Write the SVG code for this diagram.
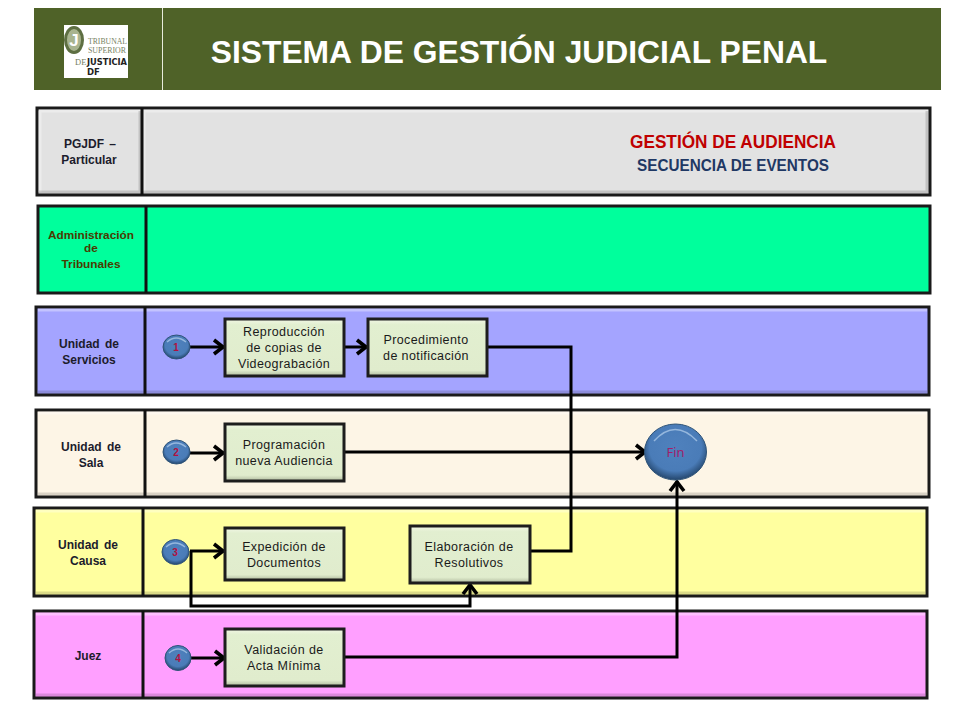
<svg xmlns="http://www.w3.org/2000/svg" width="960" height="720" viewBox="0 0 960 720">
<style>
.lane{stroke:#1a1a1a;stroke-width:3}
.div{stroke:#111;stroke-width:3;fill:none}
.hi{fill:none;stroke:#fff;stroke-opacity:.35;stroke-width:3}
.lo{fill:none;stroke:#000;stroke-opacity:.14;stroke-width:3}
.lbl{font-family:"Liberation Sans",Arial,sans-serif;font-size:12px;font-weight:bold;fill:#1c1c2c;text-anchor:middle;word-spacing:2px}
.adm{font-size:11.800px;fill:#4a3a00;word-spacing:0}
.box{fill:url(#boxg);stroke:#1d1d1d;stroke-width:3}
.boxt{font-family:"Liberation Sans",Arial,sans-serif;font-size:12.500px;fill:#1a1a1a;text-anchor:middle;letter-spacing:.4px}
.num{font-family:"Liberation Sans",Arial,sans-serif;font-size:10px;font-weight:bold;fill:#b01040;text-anchor:middle}
.ball{fill:url(#ball);stroke:#2f5478;stroke-width:1}
.shine{fill:none;stroke:#a8c6e6;stroke-opacity:.8;stroke-width:1.500}
.c{fill:none;stroke:#000;stroke-width:3;marker-end:url(#arr);stroke-linejoin:miter}
.p{fill:none;stroke:#000;stroke-width:3;stroke-linejoin:miter}
</style>
<defs>
<linearGradient id="boxg" x1="0" y1="0" x2="0" y2="1"><stop offset="0" stop-color="#f2f7e6"/><stop offset=".1" stop-color="#e2efd0"/><stop offset=".9" stop-color="#e0eccd"/><stop offset="1" stop-color="#aeb99d"/></linearGradient>
<radialGradient id="ball" cx=".5" cy=".42" r=".6"><stop offset="0" stop-color="#4f81bd"/><stop offset=".7" stop-color="#4a7cb8"/><stop offset="1" stop-color="#1f3f63"/></radialGradient>
<marker id="arr" markerUnits="userSpaceOnUse" markerWidth="16" markerHeight="18" refX="13" refY="9" orient="auto" overflow="visible"><path d="M3 2 L12 9 L3 16" fill="none" stroke="#000" stroke-width="3.600"/></marker>
</defs>

<g id="header">
<rect x="34" y="8" width="907" height="82" fill="#4f6228"/>
<line x1="162.500" y1="8" x2="162.500" y2="90" stroke="#e8ecdc" stroke-width="1"/>
<text x="519" y="63" font-family="'Liberation Sans',Arial,sans-serif" font-size="31.800" font-weight="bold" fill="#fff" text-anchor="middle">SISTEMA DE GESTIÓN JUDICIAL PENAL</text>
</g>
<g id="logo">
<rect x="64" y="25" width="64" height="53" fill="#fff"/>
<ellipse cx="74" cy="40" rx="8.500" ry="12.500" fill="#a9b48f" stroke="#5e6f42" stroke-width="3"/>
<text x="74" y="46" font-family="'Liberation Sans',Arial,sans-serif" font-size="17" font-weight="bold" fill="#fff" text-anchor="middle">J</text>
<g font-family="'Liberation Serif',serif" font-size="8.500" fill="#77815f">
<text x="88" y="44" textLength="39" lengthAdjust="spacingAndGlyphs">TRIBUNAL</text>
<text x="88" y="53" textLength="38" lengthAdjust="spacingAndGlyphs">SUPERIOR</text>
<text x="75" y="65">DE</text>
</g>
<text x="87" y="65" textLength="40" lengthAdjust="spacingAndGlyphs" font-family="'DejaVu Sans',sans-serif" font-size="8.500" font-weight="bold" fill="#222">JUSTICIA</text>
<text x="87" y="75" font-family="'DejaVu Sans',sans-serif" font-size="8.500" font-weight="bold" fill="#222">DF</text>
</g>

<g id="lane-pgjdf">
<rect class="lane" x="37" y="108" width="893" height="87" fill="#e2e2e2"/>
<path class="hi" d="M39 111H928M40 111V192M144 111V192"/><path class="lo" d="M39 192H928M927 111V192M140 111V192"/>
<line class="div" x1="142" y1="108" x2="142" y2="195"/>
<text class="lbl" x="90" y="148">PGJDF –</text><text class="lbl" x="89" y="164">Particular</text>
<text x="733" y="148" font-family="'Liberation Sans',Arial,sans-serif" font-size="18" font-weight="bold" fill="#c00000" text-anchor="middle" textLength="206" lengthAdjust="spacingAndGlyphs">GESTIÓN DE AUDIENCIA</text>
<text x="733" y="171" font-family="'Liberation Sans',Arial,sans-serif" font-size="17" font-weight="bold" fill="#1f3864" text-anchor="middle" textLength="192" lengthAdjust="spacingAndGlyphs">SECUENCIA DE EVENTOS</text>
</g>
<g id="lane-administracion">
<rect class="lane" x="38" y="206" width="892" height="87" fill="#00ff9c"/>
<line class="div" x1="146" y1="206" x2="146" y2="293"/>
<text class="lbl adm" x="91" y="239">Administración</text><text class="lbl adm" x="91" y="252">de</text><text class="lbl adm" x="91" y="268">Tribunales</text>
</g>
<g id="lane-servicios">
<rect class="lane" x="36" y="307" width="893" height="88" fill="#a4a4ff"/>
<path class="hi" d="M38 310H927"/><path class="lo" d="M38 392H927"/>
<line class="div" x1="145" y1="307" x2="145" y2="395"/>
<text class="lbl" x="89" y="348">Unidad de</text><text class="lbl" x="89" y="364">Servicios</text>
</g>
<g id="lane-sala">
<rect class="lane" x="36" y="410" width="893" height="87" fill="#fdf5e6"/>
<path class="hi" d="M38 413H927"/><path class="lo" d="M38 494H927"/>
<line class="div" x1="145" y1="410" x2="145" y2="497"/>
<text class="lbl" x="91" y="451">Unidad de</text><text class="lbl" x="91" y="467">Sala</text>
</g>
<g id="lane-causa">
<rect class="lane" x="34" y="508" width="893" height="88" fill="#ffff9f"/>
<path class="hi" d="M36 511H925"/><path class="lo" d="M36 593H925"/>
<line class="div" x1="143" y1="508" x2="143" y2="596"/>
<text class="lbl" x="88" y="549">Unidad de</text><text class="lbl" x="88" y="565">Causa</text>
</g>
<g id="lane-juez">
<rect class="lane" x="34" y="611" width="893" height="87" fill="#ff9fff"/>
<path class="hi" d="M36 614H925"/><path class="lo" d="M36 695H925"/>
<line class="div" x1="143" y1="611" x2="143" y2="698"/>
<text class="lbl" x="88" y="660">Juez</text>
</g>

<g id="connectors">
<path class="c" d="M190 347H224"/>
<path class="c" d="M345 347H367"/>
<path class="p" d="M488 347H571V551H531"/>
<path class="c" d="M190 453H224"/>
<path class="c" d="M345 452H646"/>
<path class="c" d="M190 551H224"/>
<path class="c" d="M191 551V606H470V584"/>
<path class="c" d="M191 658H225"/>
<path class="c" d="M345 657H677V481"/>
</g>

<g id="node-reproduccion"><rect class="box" x="225" y="319" width="119" height="57"/>
<text class="boxt" x="284" y="336">Reproducción</text><text class="boxt" x="284" y="352">de copias de</text><text class="boxt" x="284" y="368">Videograbación</text></g>
<g id="node-procedimiento"><rect class="box" x="368" y="319" width="119" height="57"/>
<text class="boxt" x="426" y="344">Procedimiento</text><text class="boxt" x="426" y="360">de notificación</text></g>
<g id="node-programacion"><rect class="box" x="225" y="424" width="119" height="57"/>
<text class="boxt" x="284" y="449">Programación</text><text class="boxt" x="284" y="465">nueva Audiencia</text></g>
<g id="node-expedicion"><rect class="box" x="225" y="528" width="119" height="52"/>
<text class="boxt" x="284" y="551">Expedición de</text><text class="boxt" x="284" y="567">Documentos</text></g>
<g id="node-elaboracion"><rect class="box" x="410" y="526" width="120" height="57"/>
<text class="boxt" x="469" y="551">Elaboración de</text><text class="boxt" x="469" y="567">Resolutivos</text></g>
<g id="node-validacion"><rect class="box" x="225" y="629" width="119" height="57"/>
<text class="boxt" x="284" y="654">Validación de</text><text class="boxt" x="284" y="670">Acta Mínima</text></g>

<g id="node-1"><ellipse class="ball" cx="176.500" cy="347" rx="13.500" ry="12"/><path class="shine" d="M167 342Q176 334 186 342"/><text class="num" x="176" y="351">1</text></g>
<g id="node-2"><ellipse class="ball" cx="176.500" cy="452" rx="13.500" ry="12"/><path class="shine" d="M167 447Q176 439 186 447"/><text class="num" x="176" y="456">2</text></g>
<g id="node-3"><ellipse class="ball" cx="175.500" cy="552" rx="13.500" ry="12.500"/><path class="shine" d="M166 547Q175 539 185 547"/><text class="num" x="175" y="556">3</text></g>
<g id="node-4"><ellipse class="ball" cx="178" cy="658" rx="13" ry="12.500"/><path class="shine" d="M169 653Q178 645 187 653"/><text class="num" x="178" y="662">4</text></g>
<g id="node-fin"><ellipse class="ball" cx="675.500" cy="452" rx="31" ry="28"/><path class="shine" d="M654 441Q675 418 697 441"/><text x="675.500" y="457" font-family="'Noto Sans',sans-serif" font-size="13" fill="#a01f6a" text-anchor="middle">Fin</text></g>
</svg>
